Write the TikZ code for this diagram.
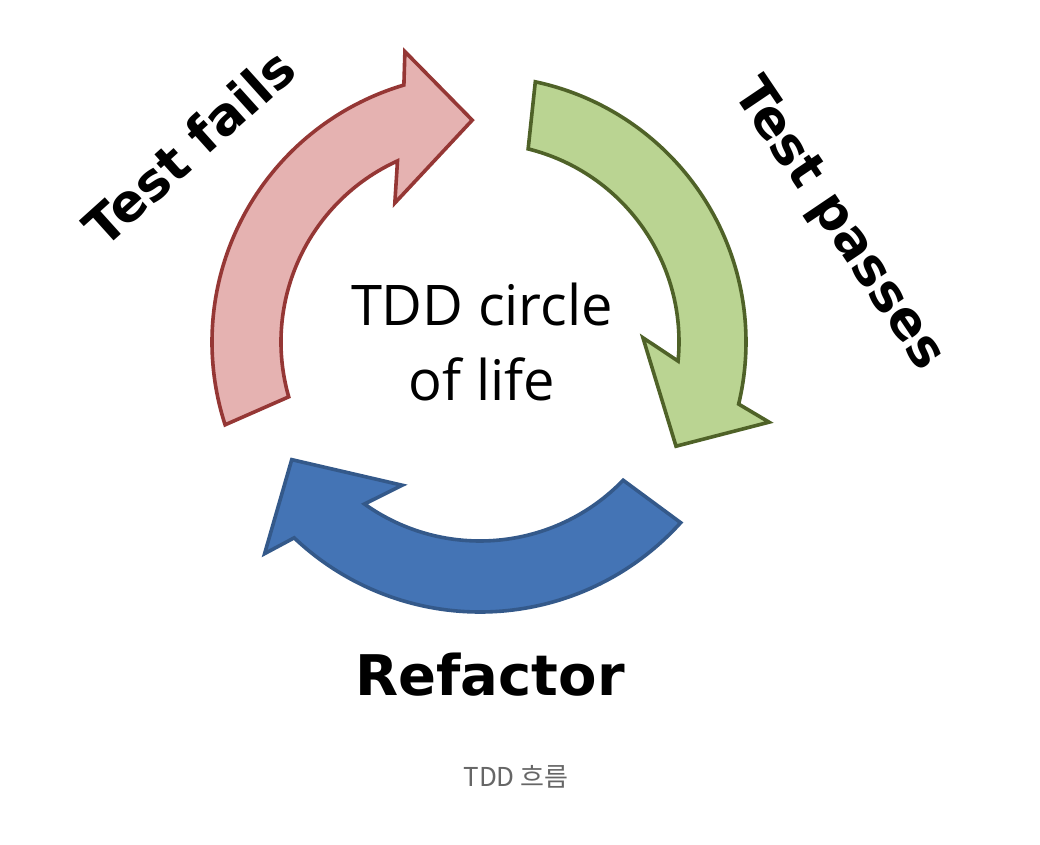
\documentclass[tikz,border=0pt]{standalone}
\usepackage{fontspec}
\setmainfont{Open Sans}
\newfontfamily\handfont{DejaVu Sans}
\newfontfamily\krfont{Noto Sans CJK KR}
\usepackage{xcolor}
\usepackage{tikz}

\definecolor{failfill}{HTML}{E5B2B1}
\definecolor{faildraw}{HTML}{953735}
\definecolor{passfill}{HTML}{BAD492}
\definecolor{passdraw}{HTML}{4F6228}
\definecolor{reffill}{HTML}{4474B5}
\definecolor{refdraw}{HTML}{34598A}

\begin{document}
\begin{tikzpicture}[x=1pt, y=1pt, every node/.style={inner sep=0pt},
  bigarrow/.style={line width=3.6pt, line join=miter},
  hand/.style={font=\handfont\bfseries\fontsize{52}{60}\selectfont}]
\useasboundingbox (0,0) rectangle (1040,844);
% three curved arrows round (480,502)
\begin{scope}[shift={(480,502)}]
\draw[bigarrow, fill=failfill, draw=faildraw] (198:268) arc[start angle=198, end angle=106.5, radius=268] -- (104.5:300) -- (92:222) -- (121.5:163) -- (114.5:199) arc[start angle=114.5, end angle=196, radius=199] -- cycle;
\draw[bigarrow, fill=passfill, draw=passdraw] (78:266) arc[start angle=78, end angle=-13.5, radius=266] -- (-15.5:300) -- (-28:222) -- (1.5:163) -- (-5.5:199) arc[start angle=-5.5, end angle=76, radius=199] -- cycle;
\draw[bigarrow, fill=reffill, draw=refdraw] (318:270) arc[start angle=318, end angle=226.5, radius=270] -- (224.5:302) -- (212:222) -- (241.5:163) -- (234.5:199) arc[start angle=234.5, end angle=316, radius=199] -- cycle;
\end{scope}
\node[align=center, font=\fontsize{56}{75}\selectfont] (title) at (482,502) {TDD circle\\of life};
\node[hand, rotate=42] (fails) at (189,697) {Test fails};
\node[hand, rotate=-56] (passes) at (838,619) {Test passes};
\node[hand, font=\handfont\bfseries\fontsize{56}{64}\selectfont] (refactor) at (490,169) {Refactor};
\node[font=\krfont\fontsize{26}{30}\selectfont, text=black!60] (caption) at (516,67) {TDD 흐름};
\end{tikzpicture}
\end{document}
